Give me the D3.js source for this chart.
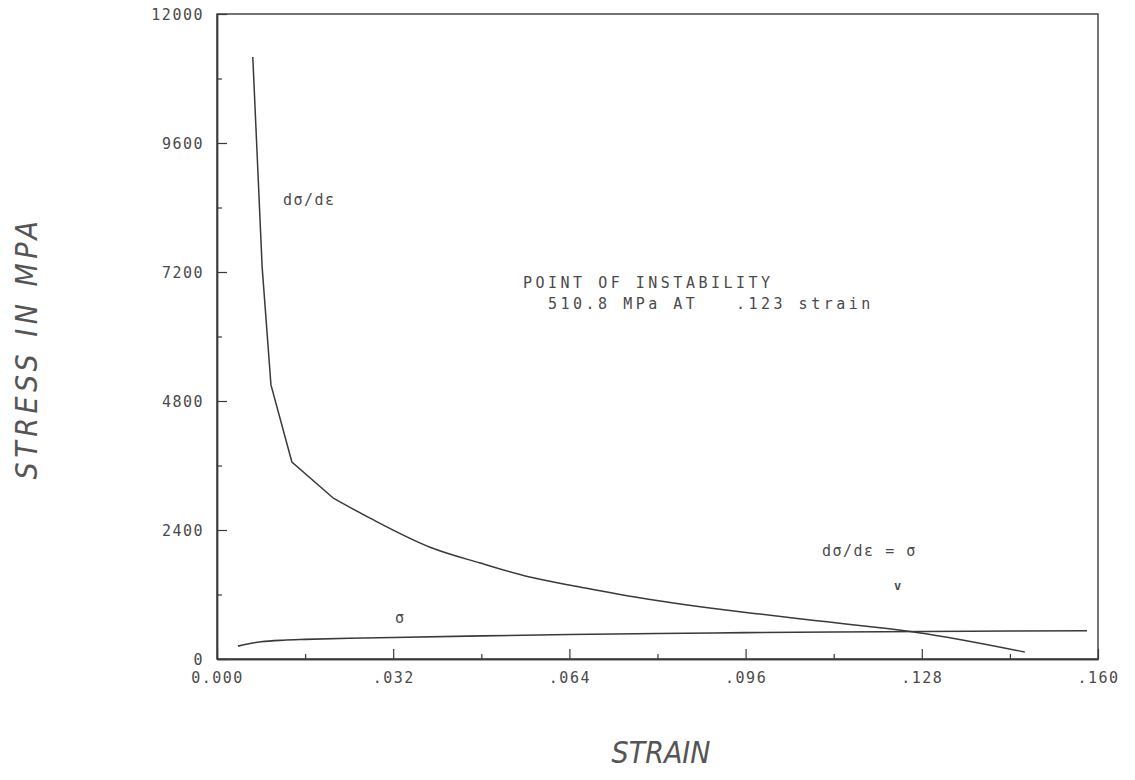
<!DOCTYPE html>
<html>
<head>
<meta charset="utf-8">
<script src="https://cdn.jsdelivr.net/npm/d3@7"></script>
<style>
  body { margin: 0; background: #fff; }
  .plotter { font-family: "DejaVu Sans Mono", monospace; fill: #4a4a4a; white-space: pre; }
  .axis-title { font-family: "DejaVu Sans ExtraLight", "DejaVu Sans Condensed", "DejaVu Sans", sans-serif; font-style: italic; font-weight: 200; fill: #555; }
</style>
</head>
<body>
<div class="chart" style="width:1135px;height:780px;"></div>
<script>
// values
let strainSlope = [0.0065, 0.0082, 0.0098, 0.0136, 0.0211, 0.0278, 0.0387, 0.0478, 0.0568, 0.0659, 0.0732, 0.0805, 0.0895, 0.0986, 0.105, 0.1108, 0.1204, 0.1271, 0.1467];
let slopeValues = [11200, 7290, 5100, 3665, 2995, 2620, 2080, 1785, 1525, 1340, 1200, 1080, 950, 835, 758, 691, 581, 494, 130];

let strainStress = [0.0038, 0.006, 0.008, 0.012, 0.016, 0.024, 0.032, 0.048, 0.064, 0.080, 0.096, 0.112, 0.128, 0.144, 0.158];
let stressValues = [240, 290, 320, 350, 365, 385, 400, 430, 455, 475, 490, 502, 512, 520, 525];

let xTicks = [0, 0.032, 0.064, 0.096, 0.128, 0.160];
let xTickLabels = ["0.000", ".032", ".064", ".096", ".128", ".160"];
let xMinor = [0.016, 0.048, 0.080, 0.112, 0.144];
let yTicks = [0, 2400, 4800, 7200, 9600, 12000];
let yTickLabels = ["0", "2400", "4800", "7200", "9600", "12000"];
let yMinor = [1200, 3600, 6000, 8400, 10800];

function init() {
    let margin = { top: 14, right: 37, bottom: 121, left: 217 };
    let width = 1135 - margin.left - margin.right;
    let height = 780 - margin.top - margin.bottom;

    let xScale = d3.scaleLinear().range([0, width]).domain([0, 0.16]);
    let yScale = d3.scaleLinear().range([height, 0]).domain([0, 12000]);

    let svg = d3.select(".chart").append("svg")
        .attr("width", 1135)
        .attr("height", 780);

    let plot = svg.append("g").attr("transform", `translate(${margin.left},${margin.top})`);

    // frame
    plot.append("rect")
        .attr("width", width).attr("height", height)
        .attr("fill", "none").attr("stroke", "#3a3a3a").attr("stroke-width", 1.4);

    // x axis, ticks pointing inward
    let xAxis = plot.append("g")
        .attr("transform", `translate(0,${height})`)
        .call(d3.axisBottom(xScale)
            .tickValues(xTicks)
            .tickSize(-10)
            .tickSizeOuter(0)
            .tickPadding(13)
            .tickFormat((d, i) => xTickLabels[i]));

    plot.append("g")
        .attr("transform", `translate(0,${height})`)
        .call(d3.axisBottom(xScale).tickValues(xMinor).tickSize(-5).tickSizeOuter(0).tickFormat(""));

    let yAxis = plot.append("g")
        .call(d3.axisLeft(yScale)
            .tickValues(yTicks)
            .tickSize(-10)
            .tickSizeOuter(0)
            .tickPadding(13)
            .tickFormat((d, i) => yTickLabels[i]));

    plot.append("g")
        .call(d3.axisLeft(yScale).tickValues(yMinor).tickSize(-5).tickSizeOuter(0).tickFormat(""));

    plot.selectAll(".domain").attr("stroke", "#3a3a3a").attr("stroke-width", 1.4);
    plot.selectAll(".tick line").attr("stroke", "#3a3a3a").attr("stroke-width", 1.2);
    plot.selectAll(".tick text")
        .attr("class", "plotter")
        .attr("font-size", 15)
        .attr("letter-spacing", 1.5);
    xAxis.selectAll(".tick text").attr("dy", "0.72em");
    yAxis.selectAll(".tick text").attr("dy", "0.35em");

    let slopePts = strainSlope.map((s, i) => [s, slopeValues[i]]);

    // steep start is a polyline with corners, the tail is smooth
    let line = d3.line()
        .x(d => xScale(d[0]))
        .y(d => yScale(d[1]));

    let smooth = d3.line()
        .x(d => xScale(d[0]))
        .y(d => yScale(d[1]))
        .curve(d3.curveMonotoneX);

    plot.append("path")
        .datum(slopePts.slice(0, 5))
        .attr("d", line)
        .attr("fill", "none").attr("stroke", "#3a3a3a").attr("stroke-width", 1.5);

    plot.append("path")
        .datum(slopePts.slice(4))
        .attr("d", smooth)
        .attr("fill", "none").attr("stroke", "#3a3a3a").attr("stroke-width", 1.5);

    plot.append("path")
        .datum(strainStress.map((s, i) => [s, stressValues[i]]))
        .attr("d", smooth)
        .attr("fill", "none").attr("stroke", "#3a3a3a").attr("stroke-width", 1.6);

    // annotations
    let note = (x, y, txt, size) => svg.append("text")
        .attr("class", "plotter")
        .attr("x", x).attr("y", y)
        .attr("font-size", size || 15)
        .attr("letter-spacing", 1.5)
        .text(txt);

    note(283, 205, "dσ/dε");
    note(523, 288, "POINT OF INSTABILITY").attr("letter-spacing", 3.5);
    note(548, 309, "510.8 MPa AT   .123 strain").attr("letter-spacing", 3.5);
    note(822, 556, "dσ/dε = σ");
    note(894, 590, "v", 12).attr("font-weight", "bold");
    note(395, 623, "σ");

    svg.append("text")
        .attr("class", "axis-title")
        .attr("x", 661).attr("y", 763)
        .attr("text-anchor", "middle")
        .attr("font-size", 30)
        .text("STRAIN");

    svg.append("text")
        .attr("class", "axis-title")
        .attr("transform", "translate(37,348) rotate(-90)")
        .attr("text-anchor", "middle")
        .attr("font-size", 30)
        .attr("letter-spacing", 4.5)
        .text("STRESS IN MPA");
}

init();
</script>
</body>
</html>
